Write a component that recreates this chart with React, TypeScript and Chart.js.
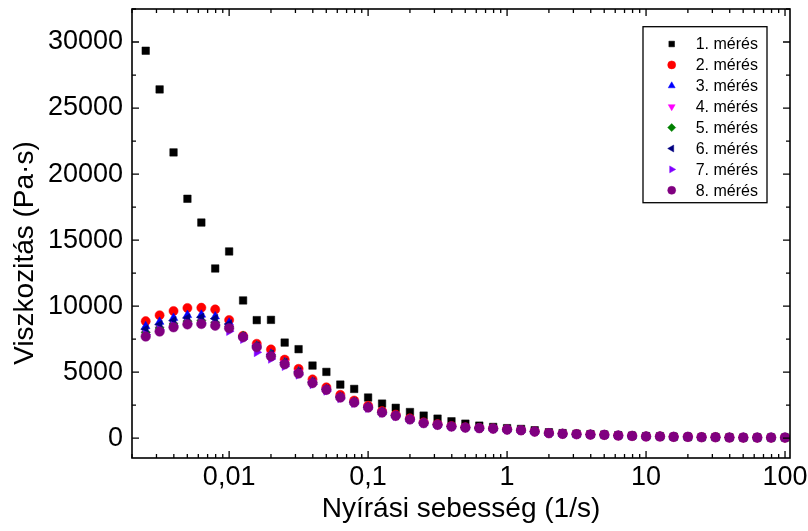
import React, { useEffect, useRef } from 'react';
import { Chart, registerables } from 'chart.js';
import { drawPoint } from 'chart.js/helpers';

Chart.register(...registerables);

const FONT = '"Liberation Sans", Arial, sans-serif';

const shearRates = [
  0.00251, 0.00316, 0.00398, 0.00501, 0.00631, 0.00794, 0.01, 0.0126, 0.0158, 0.02,
  0.0251, 0.0316, 0.0398, 0.0501, 0.0631, 0.0794, 0.1, 0.126, 0.158, 0.2,
  0.251, 0.316, 0.398, 0.501, 0.631, 0.794, 1, 1.26, 1.58, 2,
  2.51, 3.16, 3.98, 5.01, 6.31, 7.94, 10, 12.6, 15.8, 20,
  25.1, 31.6, 39.8, 50.1, 63.1, 79.4, 100,
];

const meres1 = [
  29340, 26410, 21640, 18130, 16330, 12850, 14140, 10430, 8940, 8960,
  7240, 6740, 5500, 5020, 4060, 3730, 3080, 2620, 2300, 1980,
  1710, 1480, 1280, 1100, 950, 850, 760, 700, 600, 450,
  380, 330, 300, 270, 220, 190, 150, 140, 110, 100,
  80, 80, 60, 50, 50, 50, 50,
];
const meres2 = [
  8860, 9310, 9630, 9860, 9880, 9750, 8950, 7750, 7150, 6720,
  5950, 5250, 4450, 3850, 3280, 2850, 2450, 2050, 1780, 1500,
  1200, 1060, 920, 830, 780, 740, 670, 610, 510, 390,
  340, 310, 280, 255, 205, 175, 135, 135, 105, 100,
  78, 75, 52, 47, 45, 45, 45,
];
const meres3 = [
  8480, 8810, 9110, 9320, 9350, 9220, 8750, 7700, 7000, 6400,
  5750, 5050, 4280, 3720, 3130, 2750, 2360, 1980, 1720, 1440,
  1160, 1020, 890, 810, 770, 730, 660, 605, 505, 385,
  335, 305, 275, 252, 202, 172, 132, 131, 101, 100,
  76, 75, 50, 45, 45, 45, 45,
];
const meres4 = [
  7900, 8250, 8550, 8750, 8780, 8650, 8400, 7680, 6950, 6300,
  5680, 4980, 4220, 3690, 3100, 2720, 2340, 1960, 1700, 1430,
  1150, 1015, 885, 805, 765, 725, 655, 602, 502, 382,
  332, 302, 272, 251, 201, 171, 131, 130, 100, 100,
  75, 75, 50, 45, 45, 45, 45,
];
const meres5 = [
  8000, 8350, 8650, 8850, 8900, 8750, 8450, 7750, 6980, 6320,
  5700, 5000, 4230, 3700, 3110, 2730, 2350, 1965, 1705, 1435,
  1150, 1015, 885, 805, 765, 725, 655, 602, 502, 382,
  332, 302, 272, 251, 201, 171, 131, 130, 100, 100,
  75, 75, 50, 45, 45, 45, 45,
];
const meres6 = [
  8250, 8600, 8900, 9100, 9150, 9050, 8650, 7700, 6980, 6350,
  5720, 5020, 4250, 3710, 3120, 2740, 2350, 1970, 1710, 1440,
  1155, 1018, 888, 808, 768, 728, 658, 604, 504, 384,
  334, 304, 274, 252, 202, 172, 132, 131, 101, 100,
  76, 75, 50, 45, 45, 45, 45,
];
const meres7 = [
  7850, 8200, 8500, 8700, 8720, 8580, 8100, 7500, 6500, 6000,
  5450, 4800, 4080, 3580, 3020, 2650, 2280, 1910, 1670, 1400,
  1130, 1000, 875, 795, 755, 715, 645, 598, 498, 378,
  328, 298, 268, 248, 198, 168, 128, 128, 98, 98,
  74, 74, 49, 44, 44, 44, 44,
];
const meres8 = [
  7700, 8080, 8400, 8620, 8650, 8520, 8330, 7650, 6890, 6200,
  5600, 4900, 4170, 3660, 3080, 2700, 2320, 1940, 1690, 1420,
  1140, 1010, 880, 800, 760, 720, 650, 600, 500, 380,
  330, 300, 270, 250, 200, 170, 130, 130, 100, 100,
  75, 75, 50, 45, 45, 45, 45,
];

const seriesNames = ['1. mérés', '2. mérés', '3. mérés', '4. mérés', '5. mérés', '6. mérés', '7. mérés', '8. mérés'];
const seriesValues = [meres1, meres2, meres3, meres4, meres5, meres6, meres7, meres8];
const seriesColors = ['#000000', '#ff0000', '#0000ff', '#ff00ff', '#008000', '#000080', '#8000ff', '#800080'];
const seriesStyles = ['rect', 'circle', 'triangle', 'triangle', 'rectRot', 'triangle', 'triangle', 'circle'];
const seriesRotations = [0, 0, 0, 180, 0, 270, 90, 0];
const seriesRadii = [5.3, 4.6, 5, 5, 4.6, 5, 5, 4.8];

const xTickValues = [0.01, 0.1, 1, 10, 100];
const xTickLabels = ['0,01', '0,1', '1', '10', '100'];
const yTickValues = [0, 5000, 10000, 15000, 20000, 25000, 30000];
const yTickLabels = ['0', '5000', '10000', '15000', '20000', '25000', '30000'];
const xTitle = 'Nyírási sebesség (1/s)';
const yTitle = 'Viszkozitás (Pa·s)';

const zeroPad = (s: any) => {
  s.paddingTop = 0;
  s.paddingBottom = 0;
  s.paddingLeft = 0;
  s.paddingRight = 0;
};

const framePlugin = {
  id: 'frameAndLegend',
  afterDraw(chart: any) {
    const { ctx, scales } = chart;
    const xs = scales.x;
    const ys = scales.y;
    const left = xs.getPixelForDecimal(0);
    const right = xs.getPixelForDecimal(1);
    const top = ys.getPixelForValue(ys.max);
    const bottom = ys.getPixelForValue(ys.min);
    ctx.save();
    ctx.strokeStyle = '#000';
    ctx.lineWidth = 1.6;
    ctx.strokeRect(left, top, right - left, bottom - top);

    ctx.lineWidth = 1.3;
    ctx.beginPath();
    for (let d = -3; d <= 2; d++) {
      const dec = Math.pow(10, d);
      for (let m = 1; m <= 9; m++) {
        const v = m * dec;
        if (v < xs.min || v > xs.max) continue;
        const px = xs.getPixelForValue(v);
        const len = m === 1 ? 7 : 4;
        ctx.moveTo(px, bottom);
        ctx.lineTo(px, bottom - len);
        ctx.moveTo(px, top);
        ctx.lineTo(px, top + len);
      }
    }
    for (let v = 0; v <= ys.max; v += 2500) {
      const py = ys.getPixelForValue(v);
      const len = v % 5000 === 0 ? 7 : 4;
      ctx.moveTo(left, py);
      ctx.lineTo(left + len, py);
      ctx.moveTo(right, py);
      ctx.lineTo(right - len, py);
    }
    ctx.stroke();

    ctx.fillStyle = '#000';
    ctx.font = `28px ${FONT}`;
    ctx.textAlign = 'center';
    ctx.textBaseline = 'alphabetic';
    ctx.fillText(xTitle, (left + right) / 2, 517);
    ctx.save();
    ctx.translate(33, 253);
    ctx.rotate(-Math.PI / 2);
    ctx.fillText(yTitle, 0, 0);
    ctx.restore();

    const lx = 643, ly = 26.7, lw = 124, lh = 176;
    ctx.lineWidth = 1.3;
    ctx.fillStyle = '#fff';
    ctx.fillRect(lx, ly, lw, lh);
    ctx.strokeRect(lx, ly, lw, lh);
    ctx.font = `16px ${FONT}`;
    ctx.textAlign = 'left';
    ctx.textBaseline = 'middle';
    chart.data.datasets.forEach((ds: any, i: number) => {
      const cy = 44 + i * 20.9;
      ctx.fillStyle = ds.backgroundColor;
      ctx.strokeStyle = ds.borderColor;
      ctx.lineWidth = 0.5;
      drawPoint(ctx, { pointStyle: ds.pointStyle, rotation: ds.rotation, radius: 4, borderWidth: 0.5 }, 671.7, cy);
      ctx.fillStyle = '#000';
      ctx.fillText(ds.label, 695.7, cy + 1);
    });
    ctx.restore();
  },
};

export default function App() {
  const canvasRef = useRef<HTMLCanvasElement | null>(null);

  useEffect(() => {
    const canvas = canvasRef.current;
    if (!canvas) return;
    const datasets = seriesNames.map((name, i) => ({
      label: name,
      data: shearRates.map((x, j) => ({ x, y: seriesValues[i][j] })),
      showLine: false,
      pointStyle: seriesStyles[i],
      rotation: seriesRotations[i],
      radius: seriesRadii[i],
      pointRadius: seriesRadii[i],
      backgroundColor: seriesColors[i],
      borderColor: seriesColors[i],
      borderWidth: 0.5,
      order: seriesNames.length - 1 - i,
    }));

    const chart = new Chart(canvas, {
      type: 'scatter',
      data: { datasets },
      options: {
        animation: false,
        responsive: false,
        devicePixelRatio: 1,
        layout: { padding: { left: 0, top: 9, right: 18, bottom: 0 } },
        plugins: { legend: { display: false }, tooltip: { enabled: false } },
        scales: {
          x: {
            type: 'logarithmic',
            min: 0.002,
            max: 108.6,
            grid: { display: false, drawTicks: false },
            border: { display: false },
            afterBuildTicks: (s: any) => {
              s.ticks = xTickValues.map((v) => ({ value: v, major: true }));
            },
            afterFit: (s: any) => {
              s.height = 73;
              zeroPad(s);
            },
            ticks: {
              autoSkip: false,
              maxRotation: 0,
              minRotation: 0,
              padding: 3,
              color: '#000',
              font: { family: FONT, size: 27 },
              callback: (v: any) => {
                const i = xTickValues.findIndex((t) => Math.abs(t - Number(v)) / t < 1e-6);
                return i >= 0 ? xTickLabels[i] : '';
              },
            },
          },
          y: {
            type: 'linear',
            min: -1500,
            max: 32500,
            grid: { display: false, drawTicks: false },
            border: { display: false },
            afterBuildTicks: (s: any) => {
              s.ticks = yTickValues.map((v) => ({ value: v }));
            },
            afterFit: (s: any) => {
              s.width = 132;
              zeroPad(s);
            },
            ticks: {
              autoSkip: false,
              padding: 9,
              color: '#000',
              font: { family: FONT, size: 27 },
              callback: (v: any) => {
                const i = yTickValues.indexOf(Number(v));
                return i >= 0 ? yTickLabels[i] : '';
              },
            },
          },
        },
      } as any,
      plugins: [framePlugin],
    });
    return () => chart.destroy();
  }, []);

  return (
    <div style={{ position: 'absolute', left: 0, top: 0, width: 808, height: 531, background: '#fff' }}>
      <canvas ref={canvasRef} width={808} height={531} style={{ display: 'block', width: 808, height: 531 }} />
    </div>
  );
}
